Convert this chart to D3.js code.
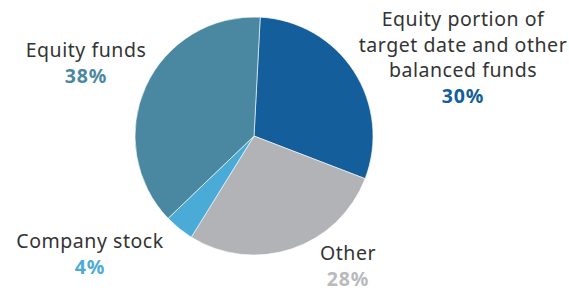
<!DOCTYPE html>
<meta charset="utf-8">
<script src="https://cdn.jsdelivr.net/npm/d3@7"></script>
<html>
<head>
<style>
body { margin: 0; background: #fff; }
text { font-family: "Noto Sans", "Lato", sans-serif; }
</style>
</head>
<body>
<div id="chart"></div>
<script>
// data
var categories = ["Equity portion of target date and other balanced funds", "Other", "Company stock", "Equity funds"];
var values = [30, 28, 4, 38];
var colors = ["#135e9b", "#b1b3b6", "#4aabd6", "#4a88a2"];
var labelColors = ["#135e9b", "#b8babd", "#4aabd6", "#4a88a2"];
// label lines per slice
var labelLines = [
  ["Equity portion of", "target date and other", "balanced funds"],
  ["Other"],
  ["Company stock"],
  ["Equity funds"]
];

var width = 569, height = 292;
var cx = 254, cy = 136, r = 119;

var svg = d3.select("#chart").append("svg")
  .attr("width", width)
  .attr("height", height);

var pie = d3.pie().sort(null)
  .startAngle(3 * Math.PI / 180)
  .endAngle(2 * Math.PI + 3 * Math.PI / 180);
var arc = d3.arc().innerRadius(0).outerRadius(r);

var g = svg.append("g").attr("transform", "translate(" + cx + "," + cy + ")");
g.selectAll("path")
  .data(pie(values))
  .enter().append("path")
  .attr("d", arc)
  .attr("fill", function(d, i) { return colors[i]; })
  .attr("stroke", "#fff")
  .attr("stroke-width", 0.6);

// label anchor: x centre, first baseline
var labelPos = [
  {x: 463, y: 26},
  {x: 348, y: 260},
  {x: 90, y: 248},
  {x: 86, y: 57}
];
var lh = 25.5;

labelLines.forEach(function(lines, i) {
  var p = labelPos[i];
  var t = svg.append("text")
    .attr("text-anchor", "middle")
    .attr("font-size", 19.5)
    .attr("letter-spacing", 0.55);
  lines.forEach(function(l, k) {
    t.append("tspan").attr("x", p.x).attr("y", p.y + k * lh)
      .attr("fill", "#333").text(l);
  });
  svg.append("text")
    .attr("text-anchor", "middle")
    .attr("x", p.x)
    .attr("y", Math.min(p.y + lines.length * lh, 286))
    .attr("font-size", 19.5)
    .attr("font-weight", "bold")
    .attr("letter-spacing", 0.9)
    .attr("fill", labelColors[i])
    .text(values[i] + "%");
});
</script>
</body>
</html>
